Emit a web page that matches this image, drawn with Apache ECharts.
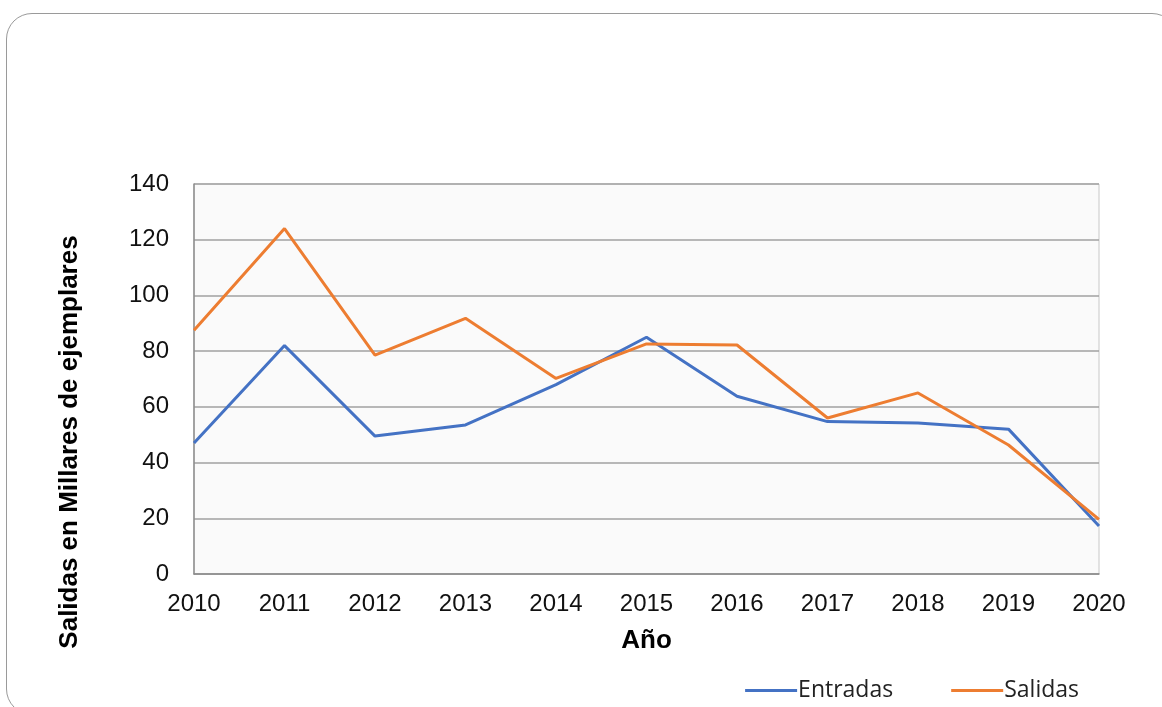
<!DOCTYPE html>
<html>
<head>
<meta charset="utf-8">
<script src="https://cdn.jsdelivr.net/npm/echarts@6/dist/echarts.min.js"></script>
<style>
  html, body { margin: 0; padding: 0; background: #fff; overflow: hidden; }
  .card {
    position: absolute;
    left: 6px;
    top: 13px;
    width: 1170px;
    height: 700px;
    border: 1.5px solid #9a9a9a;
    border-radius: 26px;
  }
  #chart { position: absolute; left: 0; top: 0; width: 1162px; height: 707px; }
</style>
</head>
<body>
<div class="card"></div>
<div id="chart"></div>
<script>
const years = ['2010', '2011', '2012', '2013', '2014', '2015', '2016', '2017', '2018', '2019', '2020']
const entradas = [47, 82, 49.5, 53.5, 68, 85, 63.8, 54.7, 54.2, 52, 17.2]
const salidas = [87.5, 124, 78.6, 91.8, 70.2, 82.6, 82.2, 56, 65, 46.3, 19.6]
const yTicks = [0, 20, 40, 60, 80, 100, 120, 140]

const chart = echarts.init(document.getElementById('chart'))

chart.setOption({
    animation: false,
    textStyle: { fontFamily: 'Liberation Sans, Arial, sans-serif' },
    grid: {
        left: 194,
        right: 63,
        top: 184,
        bottom: 133,
        show: true,
        backgroundColor: '#fafafa',
        borderColor: '#c8c8c8',
        borderWidth: 1
    },
    legend: {
        right: 78,
        bottom: 0,
        itemWidth: 52,
        itemHeight: 3,
        itemGap: 58,
        icon: 'rect',
        textStyle: {
            fontFamily: 'Open Sans, sans-serif',
            fontSize: 23,
            color: '#222',
            padding: [0, 0, 0, -4]
        },
        data: ['Entradas', 'Salidas']
    },
    graphic: [{
        type: 'text',
        x: 70,
        y: 442,
        rotation: Math.PI / 2,
        style: {
            text: 'Salidas en Millares de ejemplares',
            font: 'bold 26px "Liberation Sans", Arial, sans-serif',
            fill: '#000',
            align: 'center',
            verticalAlign: 'middle'
        }
    }],
    xAxis: {
        type: 'category',
        data: years,
        boundaryGap: false,
        name: 'Año',
        nameLocation: 'middle',
        nameGap: 54,
        nameTextStyle: { fontSize: 26, fontWeight: 'bold', color: '#000' },
        axisLine: { lineStyle: { color: '#8c8c8c', width: 1.5 } },
        axisTick: { show: false },
        axisLabel: { fontSize: 24, color: '#111', margin: 18 }
    },
    yAxis: {
        type: 'value',
        min: yTicks[0],
        max: yTicks[yTicks.length - 1],
        interval: 20,
        axisLine: { show: true, lineStyle: { color: '#8c8c8c', width: 1.5 } },
        axisTick: { show: false },
        axisLabel: { fontSize: 24, color: '#111', margin: 25 },
        splitLine: { lineStyle: { color: '#a0a0a0', width: 1.5 } }
    },
    series: [
        {
            name: 'Entradas',
            type: 'line',
            data: entradas,
            symbol: 'none',
            itemStyle: { color: '#4472C4' },
            lineStyle: { color: '#4472C4', width: 3 }
        },
        {
            name: 'Salidas',
            type: 'line',
            data: salidas,
            symbol: 'none',
            itemStyle: { color: '#ED7D31' },
            lineStyle: { color: '#ED7D31', width: 3 }
        }
    ]
})
</script>
</body>
</html>
